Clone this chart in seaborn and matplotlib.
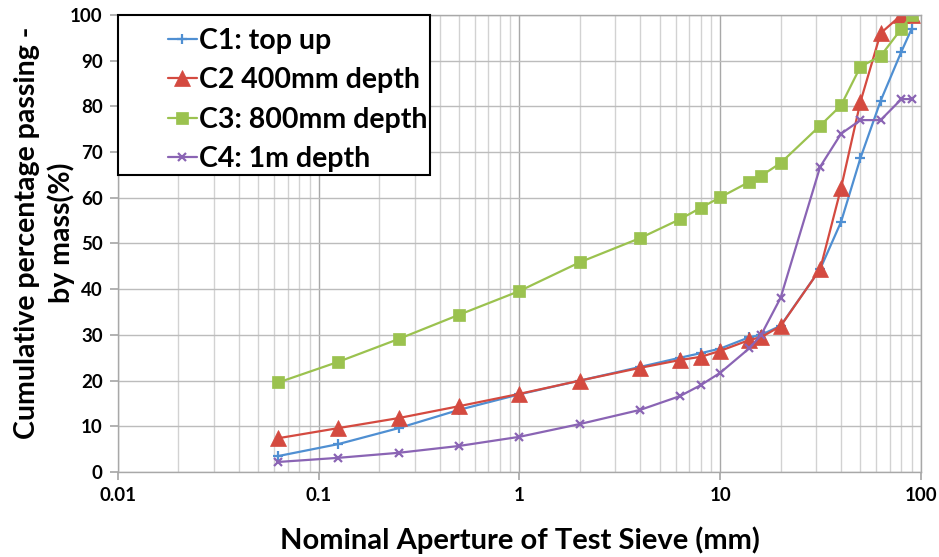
import matplotlib
matplotlib.use("Agg")
import matplotlib.pyplot as plt
import seaborn as sns
import pandas as pd
from matplotlib.ticker import FixedLocator, LogLocator, NullFormatter
from matplotlib.patches import Rectangle

sieve = [0.063, 0.125, 0.25, 0.5, 1, 2, 4, 6.3, 8, 10, 14, 16, 20, 31.5, 40, 50, 63, 80, 90]
c1 = [3.5, 6.1, 9.6, 13.6, 17.0, 20.0, 23.0, 25.0, 26.0, 27.0, 29.5, 30.0, 32.0, 44.4, 54.7, 68.7, 81.2, 92.0, 97.0]
c2 = [7.4, 9.6, 11.8, 14.4, 17.1, 20.0, 22.8, 24.5, 25.2, 26.5, 28.9, 29.5, 31.9, 44.4, 62.1, 81.0, 96.0, 100.0, 100.0]
c3 = [19.6, 24.1, 29.1, 34.4, 39.6, 45.9, 51.2, 55.3, 57.8, 60.1, 63.5, 64.8, 67.6, 75.8, 80.2, 88.7, 91.0, 97.0, 100.0]
c4 = [2.2, 3.1, 4.2, 5.7, 7.7, 10.5, 13.6, 16.6, 19.0, 21.7, 27.1, 30.0, 38.1, 66.8, 74.0, 77.0, 77.0, 81.6, 81.6]
names = ["C1: top up", "C2 400mm depth", "C3: 800mm depth", "C4: 1m depth"]
colors = ["#4f8fd2", "#d44a40", "#9bc24f", "#8a64b4"]
markers = ["+", "^", "s", "x"]
msizes = [7, 11, 8.5, 6]
xticks = [0.01, 0.1, 1, 10, 100]
xticklabels = ["0.01", "0.1", "1", "10", "100"]
yticks = list(range(0, 101, 10))

sns.set_theme(style="white")
plt.rcParams["font.family"] = ["Lato", "DejaVu Sans"]
plt.rcParams["text.color"] = "black"
plt.rcParams["axes.labelcolor"] = "black"

frames = []
for n, vals in zip(names, [c1, c2, c3, c4]):
    frames.append(pd.DataFrame({"size": sieve, "pct": vals, "series": n}))
df = pd.concat(frames, ignore_index=True)

fig = plt.figure(figsize=(9.39, 5.57), dpi=100)
ax = fig.add_axes([0.1257, 0.1526, 0.855, 0.8205])

for n, col, m, ms in zip(names, colors, markers, msizes):
    sub = df[df["series"] == n]
    sns.lineplot(data=sub, x="size", y="pct", ax=ax, color=col, marker=m,
                 markersize=ms, markeredgecolor=col, markeredgewidth=1.6 if m in "+x" else 0.5,
                 linewidth=1.6, label=n, estimator=None, sort=False)

ax.set_xscale("log")
ax.set_xlim(0.01, 100)
ax.set_ylim(0, 100)
ax.xaxis.set_major_locator(FixedLocator(xticks))
ax.set_xticklabels(xticklabels)
ax.xaxis.set_minor_locator(LogLocator(base=10, subs=range(2, 10)))
ax.xaxis.set_minor_formatter(NullFormatter())
ax.set_yticks(yticks)

ax.grid(True, which="minor", axis="x", color="#d2d2d2", linewidth=1.0)
ax.grid(True, which="major", axis="x", color="#a8a8a8", linewidth=1.0)
ax.grid(True, which="major", axis="y", color="#bcbcbc", linewidth=1.0)
ax.set_axisbelow(True)

for s in ["left", "bottom", "top", "right"]:
    ax.spines[s].set_color("#a8a8a8")
    ax.spines[s].set_linewidth(1.0)
ax.tick_params(axis="both", which="major", length=6, color="#a8a8a8", direction="out",
               labelsize=13.5, left=True, bottom=True, pad=5, labelcolor="black")
ax.tick_params(axis="x", which="minor", length=0)
for lab in ax.get_xticklabels() + ax.get_yticklabels():
    lab.set_fontweight("bold")

ax.set_xlabel("Nominal Aperture of Test Sieve (mm)", fontsize=21, fontweight="bold", labelpad=16)
ax.set_ylabel("Cumulative percentage passing -\nby mass(%)", fontsize=20.5, fontweight="bold",
              linespacing=1.3)
ax.yaxis.set_label_coords(-0.054, 0.523)

# legend box
ax.add_patch(Rectangle((0.0, 0.65), 0.3885, 0.35, transform=ax.transAxes, facecolor="white",
                       edgecolor="black", linewidth=1.5, zorder=5, clip_on=False))
leg = ax.legend(loc="upper left", bbox_to_anchor=(0.0623, 0.972), frameon=False,
                prop={"weight": "bold", "size": 20.5}, handlelength=1.0,
                handletextpad=0.1, labelspacing=0.47, borderpad=0.0, borderaxespad=0.0)
leg.set_zorder(6)
for t in leg.get_texts():
    t.set_color("black")

fig.savefig("out.png", dpi=100)
